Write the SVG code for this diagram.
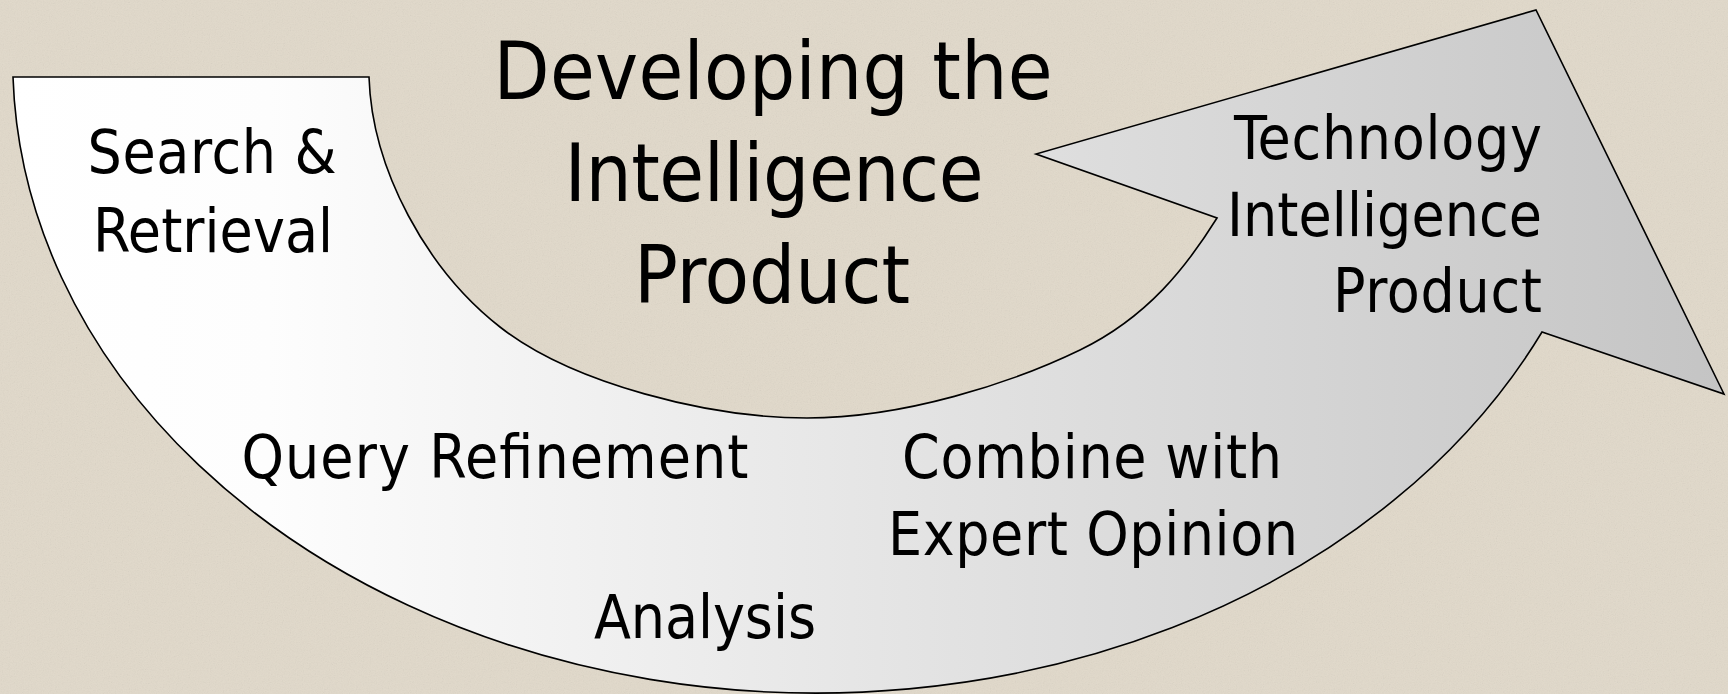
<svg xmlns="http://www.w3.org/2000/svg" width="1728" height="694" viewBox="0 0 1728 694">
  <defs>
    <linearGradient id="bandFill" gradientUnits="userSpaceOnUse" x1="13" y1="0" x2="1724" y2="0">
      <stop offset="0" stop-color="#ffffff"/>
      <stop offset="0.15" stop-color="#fdfdfd"/>
      <stop offset="0.55" stop-color="#e2e2e2"/>
      <stop offset="1" stop-color="#c4c4c4"/>
    </linearGradient>
    <filter id="grain" x="0" y="0" width="100%" height="100%">
      <feTurbulence type="fractalNoise" baseFrequency="0.85" numOctaves="3" seed="7"/>
      <feColorMatrix type="saturate" values="0"/>
    </filter>
    <style>
      .lbl { font-family: "DejaVu Sans Condensed", "DejaVu Sans", "Liberation Sans", sans-serif; font-stretch: condensed; fill: #000; }
      .item { font-size: 60px; }
      .title { font-size: 81px; }
      .band { fill: url(#bandFill); stroke: #000; stroke-width: 1.6; stroke-linejoin: miter; }
    </style>
  </defs>

  <g id="background">
    <rect width="1728" height="694" fill="#e1d9ca"/>
    <rect width="1728" height="694" filter="url(#grain)" opacity="0.13"/>
  </g>

  <g id="curved-arrow">
    <path class="band" d="M13,77 L369,77
      C372,170 427,270 500,327
      C573,384 710,418 807,418
      C904,418 1012,383 1080,350
      C1148,317 1187,266 1217,218
      L1036,154 L1536,10 L1724,394 L1542,332
      A803.6,633 0 0 1 13,77 Z"/>
  </g>

  <g id="title">
    <text class="lbl title" x="773" y="99" text-anchor="middle" textLength="559">Developing the</text>
    <text class="lbl title" x="774" y="201" text-anchor="middle" textLength="419">Intelligence</text>
    <text class="lbl title" x="772" y="303" text-anchor="middle" textLength="276">Product</text>
  </g>

  <g id="search-retrieval">
    <text class="lbl item" x="212" y="173" text-anchor="middle" textLength="249">Search &amp;</text>
    <text class="lbl item" x="213" y="252" text-anchor="middle" textLength="240">Retrieval</text>
  </g>

  <g id="query-refinement">
    <text class="lbl item" x="495" y="478" text-anchor="middle" textLength="507">Query Refinement</text>
  </g>

  <g id="analysis">
    <text class="lbl item" x="705" y="638" text-anchor="middle" textLength="222">Analysis</text>
  </g>

  <g id="combine-expert">
    <text class="lbl item" x="1092" y="478" text-anchor="middle" textLength="380">Combine with</text>
    <text class="lbl item" x="1093" y="555" text-anchor="middle" textLength="410">Expert Opinion</text>
  </g>

  <g id="technology-intelligence-product">
    <text class="lbl item" x="1542" y="159" text-anchor="end" textLength="308">Technology</text>
    <text class="lbl item" x="1542" y="236" text-anchor="end" textLength="315">Intelligence</text>
    <text class="lbl item" x="1542" y="312" text-anchor="end" textLength="209">Product</text>
  </g>
</svg>
